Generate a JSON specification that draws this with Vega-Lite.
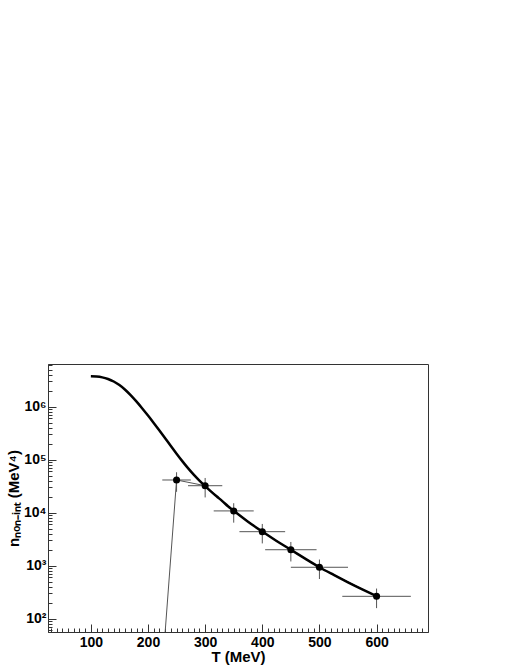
{
  "$schema": "https://vega.github.io/schema/vega-lite/v6.json",
  "width": 380,
  "height": 268,
  "autosize": {"type": "none"},
  "padding": {"top": 364, "left": 48, "right": 87, "bottom": 34},
  "background": "white",
  "config": {
    "view": {"stroke": "#333", "strokeWidth": 1},
    "font": "Liberation Sans",
    "axis": {"grid": false, "domainColor": "#333", "tickColor": "#333", "labelFont": "Liberation Sans", "labelFontWeight": "bold", "labelFontSize": 14, "labelColor": "black", "titleFont": "Liberation Sans", "titleFontWeight": "bold", "titleFontSize": 15, "titleColor": "black", "labelOverlap": false, "labelBound": false, "labelFlush": false}
  },
  "datasets": {
    "points": [
      {"T": 250, "n": 41400, "Tlo": 225, "Thi": 275, "nlo": 24800, "nhi": 58000},
      {"T": 300, "n": 32300, "Tlo": 270, "Thi": 330, "nlo": 19400, "nhi": 45200},
      {"T": 350, "n": 10800, "Tlo": 315, "Thi": 385, "nlo": 6480, "nhi": 15100},
      {"T": 400, "n": 4380, "Tlo": 360, "Thi": 440, "nlo": 2630, "nhi": 6130},
      {"T": 450, "n": 2000, "Tlo": 405, "Thi": 495, "nlo": 1200, "nhi": 2800},
      {"T": 500, "n": 933, "Tlo": 450, "Thi": 550, "nlo": 560, "nhi": 1306},
      {"T": 600, "n": 264, "Tlo": 540, "Thi": 660, "nlo": 158, "nhi": 370}
    ],
    "graph": [
      {"T": 230, "n": 56},
      {"T": 250, "n": 41400},
      {"T": 300, "n": 32300},
      {"T": 350, "n": 10800},
      {"T": 400, "n": 4380},
      {"T": 450, "n": 2000},
      {"T": 500, "n": 933},
      {"T": 600, "n": 264}
    ],
    "curve": [
      {"T": 100, "n": 3750000},
      {"T": 110, "n": 3710000},
      {"T": 120, "n": 3580000},
      {"T": 130, "n": 3340000},
      {"T": 140, "n": 2990000},
      {"T": 150, "n": 2560000},
      {"T": 160, "n": 2090000},
      {"T": 170, "n": 1637000},
      {"T": 180, "n": 1245000},
      {"T": 190, "n": 927000},
      {"T": 200, "n": 681000},
      {"T": 210, "n": 494000},
      {"T": 220, "n": 356000},
      {"T": 230, "n": 254000},
      {"T": 240, "n": 181000},
      {"T": 250, "n": 129700},
      {"T": 260, "n": 94000},
      {"T": 270, "n": 69300},
      {"T": 280, "n": 52200},
      {"T": 290, "n": 40300},
      {"T": 300, "n": 31700},
      {"T": 310, "n": 25300},
      {"T": 320, "n": 20400},
      {"T": 330, "n": 16560},
      {"T": 340, "n": 13240},
      {"T": 350, "n": 10840},
      {"T": 375, "n": 6760},
      {"T": 400, "n": 4400},
      {"T": 425, "n": 2924},
      {"T": 450, "n": 2000},
      {"T": 475, "n": 1358},
      {"T": 500, "n": 933},
      {"T": 525, "n": 668},
      {"T": 550, "n": 484},
      {"T": 575, "n": 356},
      {"T": 600, "n": 265}
    ]
  },
  "encoding": {
    "x": {"type": "quantitative", "scale": {"domain": [25, 690], "nice": false, "zero": false},
      "axis": {
        "title": "T (MeV)",
        "values": [30,40,50,60,70,80,90,100,110,120,130,140,150,160,170,180,190,200,210,220,230,240,250,260,270,280,290,300,310,320,330,340,350,360,370,380,390,400,410,420,430,440,450,460,470,480,490,500,510,520,530,540,550,560,570,580,590,600,610,620,630,640,650,660,670,680],
        "labelExpr": "datum.value % 100 == 0 ? datum.value : ''",
        "tickSize": {"condition": {"test": "datum.value % 100 == 0", "value": -8}, "value": -4},
        "labelPadding": 11,
        "titleX": 190, "titleY": 24, "titleBaseline": "middle", "titleAlign": "center"
      }
    },
    "y": {"type": "quantitative", "scale": {"type": "log", "domain": [56, 6400000], "nice": false},
      "axis": {
        "title": "nₙₒₙ₋ᵢₙₜ (MeV⁴)",
        "values": [60,70,80,90,100,200,300,400,500,600,700,800,900,1000,2000,3000,4000,5000,6000,7000,8000,9000,10000,20000,30000,40000,50000,60000,70000,80000,90000,100000,200000,300000,400000,500000,600000,700000,800000,900000,1000000,2000000,3000000,4000000,5000000,6000000],
        "labelExpr": "datum.value==100?'10²':datum.value==1000?'10³':datum.value==10000?'10⁴':datum.value==100000?'10⁵':datum.value==1000000?'10⁶':''",
        "tickSize": {"condition": {"test": "indexof([100,1000,10000,100000,1000000], datum.value) >= 0", "value": -8}, "value": -4},
        "labelPadding": 10,
        "titleAngle": 270, "titleX": -35, "titleY": 134, "titleBaseline": "middle", "titleAlign": "center"
      }
    }
  },
  "layer": [
    {"data": {"name": "graph"}, "mark": {"type": "line", "color": "#555", "strokeWidth": 1, "clip": true},
      "encoding": {"x": {"field": "T"}, "y": {"field": "n"}}},
    {"data": {"name": "points"}, "mark": {"type": "rule", "color": "#555", "strokeWidth": 1},
      "encoding": {"x": {"field": "Tlo"}, "x2": {"field": "Thi"}, "y": {"field": "n"}}},
    {"data": {"name": "points"}, "mark": {"type": "rule", "color": "#555", "strokeWidth": 1},
      "encoding": {"x": {"field": "T"}, "y": {"field": "nlo"}, "y2": {"field": "nhi"}}},
    {"data": {"name": "curve"}, "mark": {"type": "line", "color": "black", "strokeWidth": 2.5, "clip": true, "interpolate": "monotone"},
      "encoding": {"x": {"field": "T"}, "y": {"field": "n"}}},
    {"data": {"name": "points"}, "mark": {"type": "circle", "color": "black", "opacity": 1, "size": 50},
      "encoding": {"x": {"field": "T"}, "y": {"field": "n"}}}
  ]
}
